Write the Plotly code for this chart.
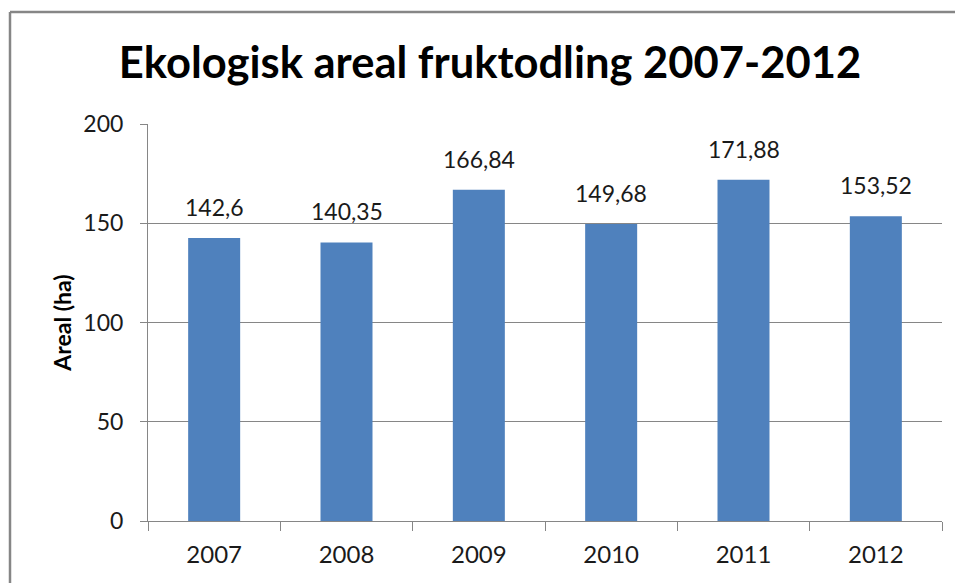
import plotly.graph_objects as go

years = ["2007", "2008", "2009", "2010", "2011", "2012"]
areal = [142.6, 140.35, 166.84, 149.68, 171.88, 153.52]
labels = ["142,6", "140,35", "166,84", "149,68", "171,88", "153,52"]
title_text = "Ekologisk areal fruktodling 2007-2012"
y_title = "Areal (ha)"

W, H = 955, 583
L, R, T, B = 148, 13, 124, 62
GRAY = "#868686"
TXT = "#1a1a1a"

fig = go.Figure(go.Bar(
    x=years, y=areal,
    marker=dict(color="#4f81bd", line=dict(width=0)),
    hoverinfo="x+y",
))

for i, (v, lab) in enumerate(zip(areal, labels)):
    fig.add_annotation(x=i, y=v, text=lab, showarrow=False,
                       xanchor="center", yanchor="bottom", yshift=15,
                       font=dict(family="Lato", size=23, color=TXT))

fig.update_layout(
    width=W, height=H,
    margin=dict(l=L, r=R, t=T, b=B, autoexpand=False),
    paper_bgcolor="white", plot_bgcolor="white",
    bargap=0.607,
    showlegend=False,
    title=dict(text=title_text, x=490 / W, xanchor="center",
               y=1 - 63 / H, yanchor="middle",
               font=dict(family="Lato", size=43.5, color="black", weight="bold")),
    font=dict(family="Lato", color=TXT),
)

fig.update_xaxes(
    type="category", range=[-0.5, len(years) - 0.5],
    showline=True, linecolor=GRAY, linewidth=1,
    ticks="outside", tickson="boundaries", ticklen=9, tickcolor=GRAY,
    ticklabelstandoff=12, tickangle=0,
    tickfont=dict(family="Lato", size=24, color=TXT), showgrid=False,
)
fig.update_yaxes(
    range=[0, 200], dtick=50, showline=True, linecolor=GRAY, linewidth=1,
    ticks="outside", ticklen=7, tickcolor=GRAY, ticklabelstandoff=12,
    gridcolor=GRAY, gridwidth=1, zeroline=False,
    tickfont=dict(family="Lato", size=23, color=TXT),
    title=dict(text=y_title, standoff=5,
               font=dict(family="Lato", size=23, color="black", weight="bold")),
)

# Outer chart border: only top and left edges are inside the picture
pw, ph = W - L - R, H - T - B
top_y = 1 + (T - 12) / ph
left_x = (10 - L) / pw
fig.add_shape(type="line", xref="paper", yref="paper",
              x0=left_x, x1=(1000 - L) / pw, y0=top_y, y1=top_y,
              line=dict(color=GRAY, width=2.5), layer="above")
fig.add_shape(type="line", xref="paper", yref="paper",
              x0=left_x, x1=left_x, y0=top_y, y1=-(B + 30) / ph,
              line=dict(color=GRAY, width=2.5), layer="above")

fig.write_html(
    "out.html", config={"displayModeBar": False},
    post_script=(
        "document.documentElement.style.overflow='hidden';"
        "document.body.style.margin='0';document.body.style.overflow='hidden';"
    ),
)
